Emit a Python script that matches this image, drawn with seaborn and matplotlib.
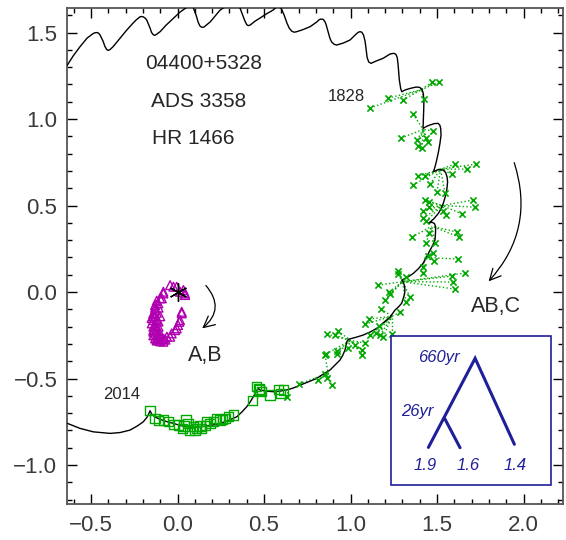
import matplotlib
matplotlib.use('Agg')
import matplotlib.pyplot as plt
import seaborn as sns
from matplotlib.ticker import MultipleLocator
from matplotlib.patches import FancyArrowPatch, Rectangle

GREEN = '#00a800'
MAGENTA = '#b000b0'
NAVY = '#1f1f99'

# apparent orbit of C relative to A (outer orbit + 26yr wobble)
orbit_x = [-0.637, -0.604, -0.564, -0.523, -0.487, -0.476, -0.465, -0.456, -0.448, -0.431,
           -0.420, -0.409, -0.400, -0.390, -0.373, -0.332, -0.294, -0.257, -0.237, -0.217,
           -0.207, -0.197, -0.188, -0.178, -0.159, -0.150, -0.140, -0.132, -0.124, -0.101,
           -0.066, -0.024, 0.014, 0.053, 0.072, 0.090, 0.107, 0.119, 0.130, 0.141,
           0.153, 0.188, 0.246, 0.275, 0.303, 0.338, 0.361, 0.379, 0.390, 0.400,
           0.409, 0.419, 0.448, 0.477, 0.512, 0.552, 0.575, 0.598, 0.616, 0.633,
           0.646, 0.660, 0.674, 0.689, 0.725, 0.766, 0.806, 0.818, 0.829, 0.842,
           0.852, 0.858, 0.870, 0.881, 0.891, 0.905, 0.920, 0.957, 0.997, 1.032,
           1.045, 1.055, 1.065, 1.075, 1.084, 1.090, 1.096, 1.105, 1.118, 1.147,
           1.188, 1.228, 1.251, 1.262, 1.270, 1.275, 1.282, 1.290, 1.296, 1.315,
           1.344, 1.379, 1.400, 1.412, 1.420, 1.424, 1.423, 1.421, 1.419, 1.440,
           1.460, 1.485, 1.506, 1.516, 1.521, 1.523, 1.517, 1.508, 1.498, 1.488,
           1.479, 1.508, 1.536, 1.550, 1.558, 1.561, 1.556, 1.547, 1.536, 1.523,
           1.508, 1.482, 1.450, 1.470, 1.485, 1.492, 1.491, 1.488, 1.475, 1.460,
           1.440, 1.419, 1.392, 1.363, 1.330, 1.296, 1.306, 1.313, 1.314, 1.309,
           1.296, 1.278, 1.257, 1.228, 1.188, 1.151, 1.113, 1.072, 1.026, 0.987,
           0.978, 0.968, 0.955, 0.939, 0.910, 0.881, 0.850, 0.824, 0.805, 0.754,
           0.708, 0.668, 0.631, 0.590, 0.554, 0.512, 0.477, 0.467, 0.460, 0.454,
           0.438, 0.420, 0.400, 0.370, 0.342, 0.292, 0.246, 0.188, 0.130, 0.090,
           0.053, 0.015, -0.024, -0.065, -0.101, -0.130, -0.149, -0.159, -0.166, -0.176,
           -0.198, -0.234, -0.275, -0.332, -0.390, -0.448, -0.487, -0.564, -0.637, -0.679]
orbit_y = [1.312, 1.364, 1.418, 1.468, 1.495, 1.499, 1.500, 1.496, 1.486, 1.451,
           1.420, 1.401, 1.397, 1.402, 1.418, 1.468, 1.514, 1.555, 1.575, 1.591,
           1.593, 1.590, 1.584, 1.572, 1.526, 1.500, 1.487, 1.484, 1.488, 1.505,
           1.543, 1.582, 1.618, 1.646, 1.671, 1.646, 1.601, 1.560, 1.537, 1.530,
           1.532, 1.561, 1.630, 1.649, 1.665, 1.659, 1.642, 1.595, 1.565, 1.546,
           1.540, 1.543, 1.566, 1.584, 1.607, 1.630, 1.650, 1.642, 1.601, 1.553,
           1.525, 1.508, 1.502, 1.505, 1.517, 1.534, 1.562, 1.574, 1.578, 1.576,
           1.563, 1.548, 1.505, 1.466, 1.445, 1.432, 1.428, 1.439, 1.457, 1.491,
           1.502, 1.505, 1.502, 1.485, 1.450, 1.400, 1.355, 1.330, 1.322, 1.335,
           1.351, 1.376, 1.380, 1.374, 1.355, 1.312, 1.225, 1.175, 1.158, 1.168,
           1.177, 1.185, 1.183, 1.172, 1.150, 1.110, 1.060, 1.000, 0.946, 0.958,
           0.966, 0.974, 0.975, 0.965, 0.946, 0.908, 0.861, 0.810, 0.763, 0.723,
           0.695, 0.709, 0.705, 0.690, 0.665, 0.636, 0.590, 0.550, 0.513, 0.482,
           0.455, 0.424, 0.397, 0.404, 0.396, 0.377, 0.341, 0.301, 0.270, 0.243,
           0.203, 0.166, 0.135, 0.108, 0.086, 0.069, 0.055, 0.030, 0.005, -0.023,
           -0.064, -0.085, -0.104, -0.145, -0.179, -0.210, -0.231, -0.249, -0.263, -0.273,
           -0.287, -0.335, -0.365, -0.393, -0.422, -0.451, -0.470, -0.486, -0.499, -0.520,
           -0.538, -0.555, -0.566, -0.573, -0.576, -0.573, -0.566, -0.557, -0.566, -0.578,
           -0.605, -0.635, -0.663, -0.695, -0.721, -0.743, -0.759, -0.772, -0.779, -0.780,
           -0.779, -0.771, -0.759, -0.748, -0.736, -0.722, -0.706, -0.686, -0.703, -0.723,
           -0.750, -0.775, -0.798, -0.812, -0.817, -0.812, -0.808, -0.788, -0.759, -0.740]

# predicted orbit positions that the micrometer residual lines go to
anchor_x = [1.41, 1.42, 1.52, 1.53, 1.47, 1.43, 1.30, 1.24, 1.00, 0.87, 0.64]
anchor_y = [1.17, 0.94, 0.71, 0.50, 0.38, 0.20, 0.06, -0.14, -0.28, -0.47, -0.565]

# visual / micrometer measures of AB,C
micro_x = [1.113, 1.217, 1.302, 1.471, 1.512, 1.425,
           1.361, 1.292, 1.384, 1.436, 1.448, 1.390, 1.413, 1.477,
           1.604, 1.725, 1.673, 1.587, 1.390, 1.431, 1.361, 1.460, 1.500, 1.546,
           1.431, 1.454, 1.454, 1.419, 1.535, 1.552, 1.645, 1.708, 1.720, 1.419, 1.436,
           1.355, 1.454, 1.616, 1.627, 1.436, 1.488,
           1.448, 1.477, 1.621, 1.483, 1.419, 1.419,
           1.275, 1.275, 1.321, 1.587, 1.662, 1.592, 1.604, 1.159, 1.223, 1.228, 1.344, 1.199, 1.321,
           1.176, 1.286, 1.107, 1.084, 1.165, 1.147, 1.113, 1.171, 1.240, 1.188,
           0.928, 0.910, 0.864, 1.084, 1.026, 0.986, 1.066, 1.066, 0.922, 0.922, 0.858,
           0.853, 0.864, 0.893, 0.812, 0.702, 0.853,
           0.633]
micro_y = [1.064, 1.121, 1.110, 1.214, 1.214, 1.116,
           1.029, 0.890, 0.879, 0.890, 0.867, 0.844, 0.832, 0.931,
           0.740, 0.740, 0.711, 0.682, 0.671, 0.671, 0.618, 0.624, 0.578, 0.572,
           0.532, 0.520, 0.491, 0.468, 0.468, 0.445, 0.451, 0.532, 0.491, 0.428, 0.410,
           0.318, 0.341, 0.347, 0.318, 0.283, 0.283,
           0.208, 0.225, 0.191, 0.179, 0.145, 0.110,
           0.121, 0.104, 0.087, 0.092, 0.110, 0.058, 0.017, 0.040, 0.000, -0.012, -0.029, -0.046, -0.058,
           -0.098, -0.116, -0.156, -0.185, -0.197, -0.237, -0.249, -0.249, -0.243, -0.260,
           -0.225, -0.249, -0.243, -0.295, -0.306, -0.324, -0.335, -0.364, -0.341, -0.358, -0.358,
           -0.474, -0.497, -0.538, -0.509, -0.532, -0.364,
           -0.607]
micro_anchor = ([0] * 6 + [1] * 8 + [2] * 10 + [3] * 11 + [4] * 6 + [5] * 6
                + [6] * 13 + [7] * 10 + [8] * 11 + [9] * 6 + [10])

# speckle measures of AB,C
speckle_x = [-0.159, -0.130, -0.111, -0.082, -0.053, 0.005, 0.049, 0.038, 0.091, 0.101,
             0.130, 0.140, 0.169, 0.188, 0.207, 0.227, 0.246, 0.275, 0.294, 0.323,
             0.435, 0.458, 0.473, 0.487, 0.535, 0.583, 0.597, 0.612, 0.030, 0.070,
             0.110, 0.160, 0.060, 0.470, 0.260, -0.020]
speckle_y = [-0.686, -0.730, -0.742, -0.740, -0.750, -0.769, -0.740, -0.775, -0.779, -0.802,
             -0.775, -0.788, -0.750, -0.759, -0.750, -0.730, -0.740, -0.730, -0.721, -0.711,
             -0.628, -0.547, -0.566, -0.576, -0.595, -0.562, -0.586, -0.566, -0.790, -0.800,
             -0.790, -0.770, -0.760, -0.560, -0.735, -0.765]

# A,B measures
ab_x = [-0.043, -0.024, -0.005, 0.014, 0.034, 0.043, 0.043, -0.082, -0.082, -0.091,
        -0.101, -0.111, -0.130, -0.130, -0.140, -0.140, -0.149, -0.140, -0.140, -0.130,
        -0.120, -0.101, -0.082, -0.062, -0.043, -0.034, -0.014, -0.005, 0.003, 0.010,
        0.014, 0.024, 0.024,
        -0.120, -0.130, -0.120, -0.140, -0.120, -0.130, -0.140, -0.120, -0.130, -0.110,
        -0.120, -0.100, -0.090, -0.110, -0.100, -0.110, -0.140, -0.150, -0.120, -0.080,
        -0.070, -0.100, -0.130, -0.125, -0.135, -0.110, -0.105, -0.115]
ab_y = [0.040, 0.031, 0.031, 0.002, 0.012, -0.008, -0.017, 0.002, -0.008, -0.036,
        -0.036, -0.065, -0.075, -0.104, -0.123, -0.162, -0.181, -0.220, -0.229, -0.268,
        -0.277, -0.277, -0.287, -0.258, -0.258, -0.239, -0.220, -0.210, -0.191, -0.172,
        -0.162, -0.123, -0.114,
        -0.050, -0.090, -0.120, -0.140, -0.160, -0.190, -0.200, -0.220, -0.240, -0.250,
        -0.270, -0.260, -0.270, -0.200, -0.140, -0.090, -0.250, -0.150, -0.280, -0.270,
        -0.275, -0.285, -0.130, -0.170, -0.220, -0.170, -0.230, -0.260]

# hierarchy sketch in the inset (data units)
tree_x = [1.450, 1.720, 1.947]
tree_y = [-0.898, -0.383, -0.880]
branch_x = [1.542, 1.633]
branch_y = [-0.727, -0.900]
leaf_labels = ['1.9', '1.6', '1.4']
leaf_x = [1.431, 1.677, 1.951]

sns.set_style('ticks')
plt.rcParams['font.family'] = ['Liberation Sans', 'DejaVu Sans']

fig = plt.figure(figsize=(5.66, 5.40), dpi=100)
ax = fig.add_axes([0.1184, 0.0667, 0.8763, 0.9185])

# residual lines
for ox, oy, g in zip(micro_x, micro_y, micro_anchor):
    ax.plot([ox, anchor_x[g]], [oy, anchor_y[g]], ls=':', color=GREEN, lw=1.0, zorder=2)

sns.lineplot(x=orbit_x, y=orbit_y, sort=False, estimator=None, color='black', lw=1.0,
             ax=ax, zorder=3, solid_joinstyle='round', solid_capstyle='round')
sns.scatterplot(x=micro_x, y=micro_y, marker='x', s=20, color=GREEN, linewidth=1.2,
                ax=ax, zorder=4)
sns.scatterplot(x=speckle_x, y=speckle_y, marker='s', s=45, facecolor='none',
                edgecolor=GREEN, linewidth=1.0, ax=ax, zorder=4)
sns.scatterplot(x=ab_x, y=ab_y, marker='^', s=40, facecolor='none',
                edgecolor=MAGENTA, linewidth=1.0, ax=ax, zorder=4)
ax.plot([0], [0], marker=(6, 2, 0), markersize=13, color='black', mew=1.0, zorder=5)

# labels
ax.text(-0.188, 1.324, '04400+5328', fontsize=15, va='center', ha='left')
ax.text(-0.155, 1.104, 'ADS 3358', fontsize=15, va='center', ha='left')
ax.text(-0.149, 0.888, 'HR 1466', fontsize=15, va='center', ha='left')
ax.text(0.866, 1.129, '1828', fontsize=12, va='center', ha='left')
ax.text(-0.429, -0.595, '2014', fontsize=12, va='center', ha='left')
ax.text(0.062, -0.364, 'A,B', fontsize=15.5, va='center', ha='left')
ax.text(1.695, -0.085, 'AB,C', fontsize=15.5, va='center', ha='left')

# motion arrows
for start, end, rad in [((1.941, 0.763), (1.787, 0.050), -0.3),
                        ((0.153, 0.050), (0.130, -0.220), -0.55)]:
    ax.add_patch(FancyArrowPatch(start, end, arrowstyle='->,head_length=0.5,head_width=0.25',
                                 mutation_scale=16, connectionstyle=f'arc3,rad={rad}',
                                 color='black', lw=0.9, zorder=5))

# inset with the hierarchy
ax.add_patch(Rectangle((1.232, -1.116), 0.925, 0.862, facecolor='white',
                       edgecolor=NAVY, lw=1.2, zorder=6))
ax.plot(tree_x, tree_y, color=NAVY, lw=2.2, zorder=7, solid_joinstyle='miter')
ax.plot(branch_x, branch_y, color=NAVY, lw=2.2, zorder=7)
ax.text(1.392, -0.380, '660yr', fontsize=12, style='italic', color=NAVY, va='center', zorder=7)
ax.text(1.290, -0.692, '26yr', fontsize=12, style='italic', color=NAVY, va='center', zorder=7)
for lx, lab in zip(leaf_x, leaf_labels):
    ax.text(lx, -1.0, lab, fontsize=12, style='italic', color=NAVY, ha='center',
            va='center', zorder=7)

ax.set_xlim(-0.639, 2.228)
ax.set_ylim(-1.225, 1.642)
ax.set_xticks([-0.5, 0.0, 0.5, 1.0, 1.5, 2.0])
ax.set_yticks([-1.0, -0.5, 0.0, 0.5, 1.0, 1.5])
ax.xaxis.set_minor_locator(MultipleLocator(0.1))
ax.yaxis.set_minor_locator(MultipleLocator(0.1))
ax.tick_params(which='both', direction='in', top=True, right=True, colors='black',
               labelcolor='#3a3a3a', labelsize=16)
ax.tick_params(which='major', length=7, width=1.0)
ax.tick_params(which='minor', length=3.5, width=1.0)
ax.tick_params(axis='x', pad=8)
ax.tick_params(axis='y', pad=7)
for sp in ax.spines.values():
    sp.set_color('#555555')
    sp.set_linewidth(1.3)

fig.savefig('out.png', dpi=100)
